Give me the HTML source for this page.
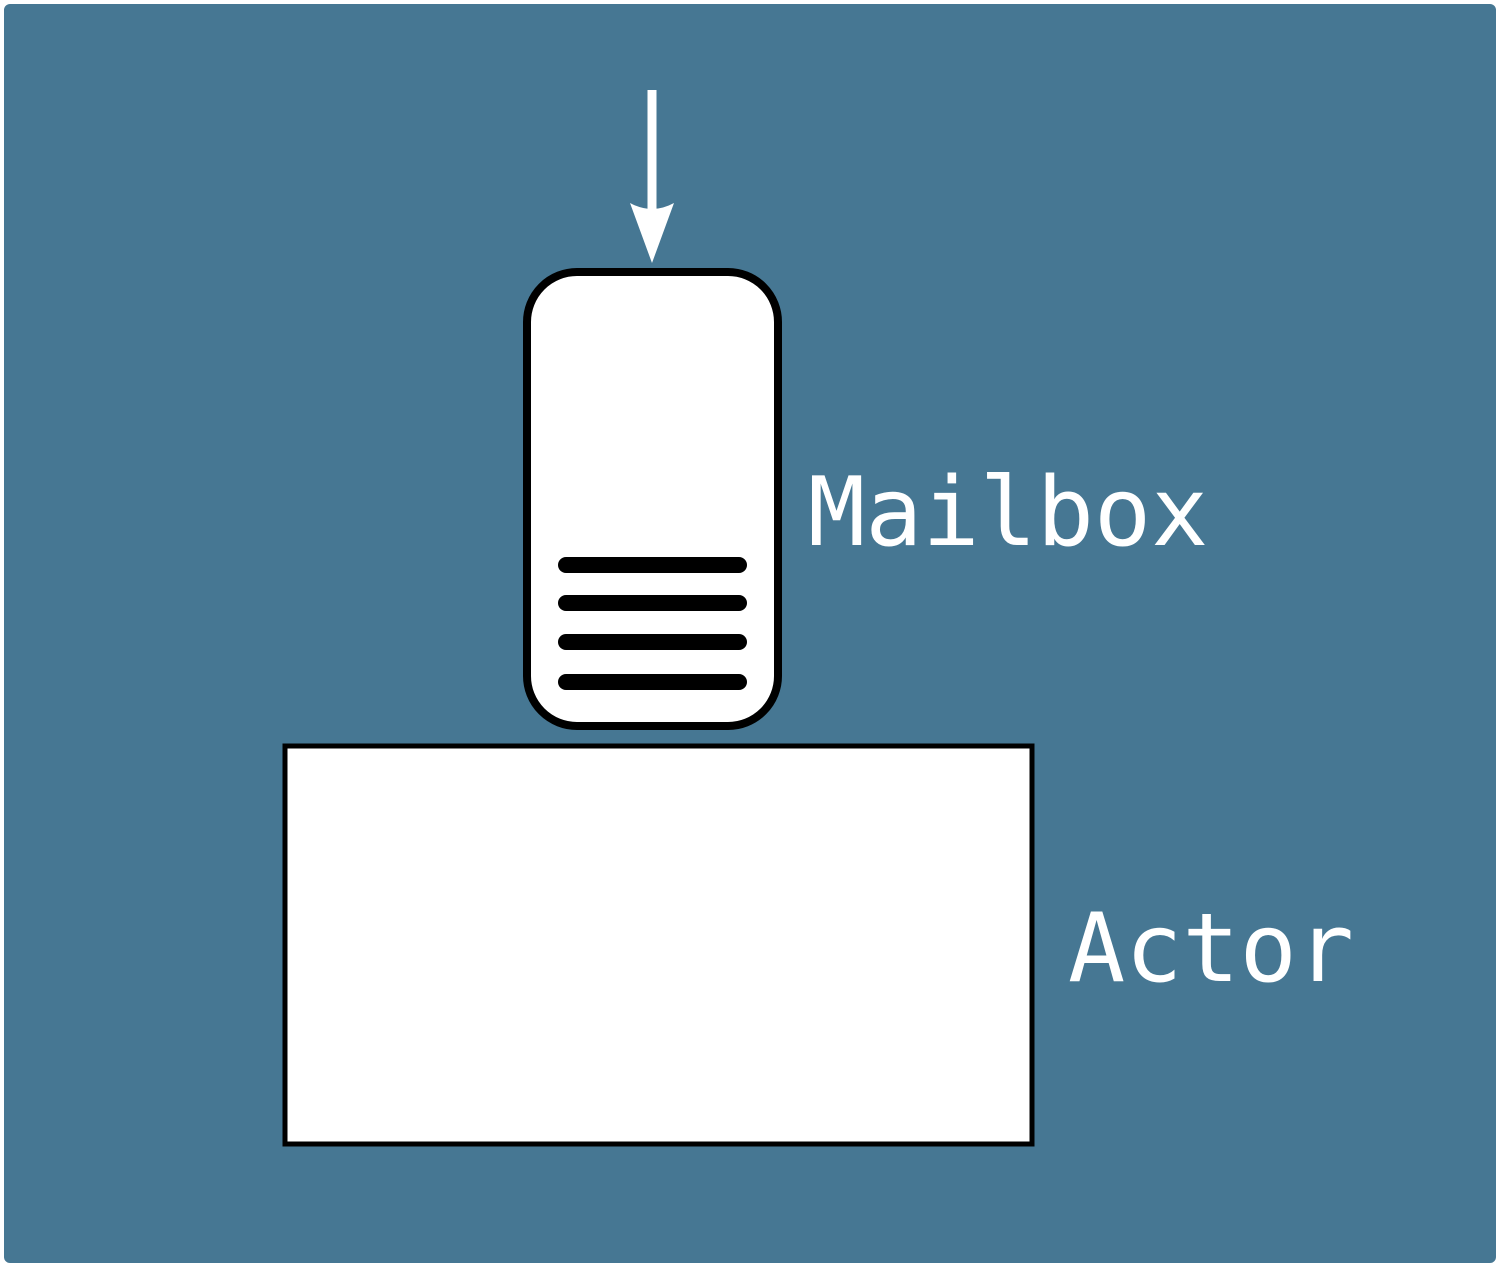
<!DOCTYPE html>
<html><head><style>html,body{margin:0;padding:0;background:#fff}</style></head>
<body>
<svg width="1500" height="1267" viewBox="0 0 1500 1267" xmlns="http://www.w3.org/2000/svg">
<rect x="2" y="2" width="1496" height="1263" rx="8" fill="#467793" stroke="#ffffff" stroke-width="4"/>
<line x1="652" y1="90" x2="652" y2="215" stroke="#fff" stroke-width="9"/>
<path d="M630,203 Q652,215 674,203 L652,263 Z" fill="#fff"/>
<rect x="527" y="272" width="251" height="454" rx="50" fill="#fff" stroke="#000" stroke-width="8"/>
<g stroke="#000" stroke-width="16" stroke-linecap="round">
<line x1="566" y1="565" x2="739" y2="565"/>
<line x1="566" y1="603" x2="739" y2="603"/>
<line x1="566" y1="642" x2="739" y2="642"/>
<line x1="566" y1="682" x2="739" y2="682"/>
</g>
<rect x="285" y="746" width="747" height="398" fill="#fff" stroke="#000" stroke-width="5"/>
<text x="808" y="545" font-family="'DejaVu Sans Mono','Liberation Mono',monospace" font-size="95" fill="#fff">Mailbox</text>
<text x="1068" y="981" font-family="'DejaVu Sans Mono','Liberation Mono',monospace" font-size="95" fill="#fff">Actor</text>
</svg>
</body></html>
